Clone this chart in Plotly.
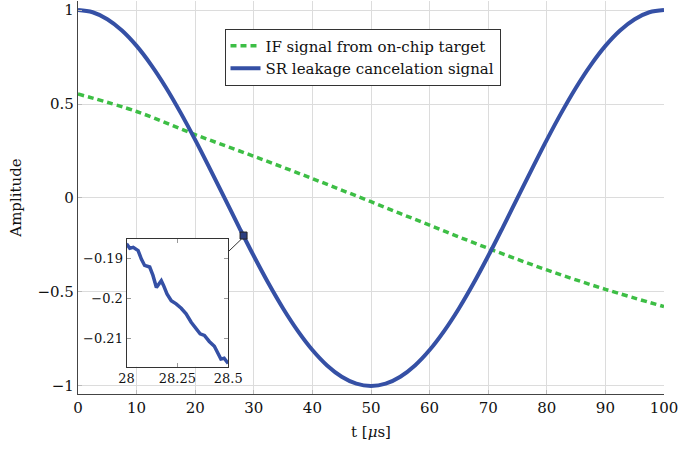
import plotly.graph_objects as go

# ---- data ----
t_sr = [0, 2.5, 5, 7.5, 10, 12.5, 15, 17.5, 20, 22.5, 25, 27.5, 30, 32.5, 35, 37.5, 40,
        42.5, 45, 47.5, 50, 52.5, 55, 57.5, 60, 62.5, 65, 67.5, 70, 72.5, 75, 77.5, 80,
        82.5, 85, 87.5, 90, 92.5, 95, 97.5, 100]
sr = [1.0, 0.988, 0.951, 0.891, 0.809, 0.707, 0.588, 0.454, 0.309, 0.156, 0.0, -0.156,
      -0.309, -0.454, -0.588, -0.707, -0.809, -0.891, -0.951, -0.988, -1.0, -0.988, -0.951,
      -0.891, -0.809, -0.707, -0.588, -0.454, -0.309, -0.156, 0.0, 0.156, 0.309, 0.454,
      0.588, 0.707, 0.809, 0.891, 0.951, 0.988, 1.0]

t_if = [0, 10, 20, 30, 40, 50, 60, 70, 80, 90, 100]
if_sig = [0.553, 0.46, 0.337, 0.222, 0.103, -0.02, -0.145, -0.268, -0.383, -0.486, -0.578]

t_zoom = [28.0, 28.016, 28.033, 28.057, 28.073, 28.089, 28.114, 28.130, 28.147, 28.163,
          28.171, 28.182, 28.199, 28.220, 28.244, 28.269, 28.293, 28.318, 28.342, 28.362,
          28.383, 28.407, 28.432, 28.448, 28.464, 28.480, 28.497, 28.5]
sr_zoom = [-0.1864, -0.1875, -0.1873, -0.1881, -0.1902, -0.1918, -0.1922, -0.1943, -0.1973,
           -0.1960, -0.1956, -0.1968, -0.1989, -0.2006, -0.2014, -0.2025, -0.2039, -0.2060,
           -0.2077, -0.2089, -0.2093, -0.2108, -0.2120, -0.2135, -0.2152, -0.2150, -0.2160,
           -0.2163]

spy_point_x = [28.25]
spy_point_y = [-0.2]

x_ticks = [0, 10, 20, 30, 40, 50, 60, 70, 80, 90, 100]
y_ticks = [-1, -0.5, 0, 0.5, 1]
y_tick_text = ["\u22121", "\u22120.5", "0", "0.5", "1"]
zx_ticks = [28, 28.25, 28.5]
zy_ticks = [-0.21, -0.2, -0.19]
zy_tick_text = ["\u22120.21", "\u22120.2", "\u22120.19"]

BLUE = "#3550a5"
GREEN = "#3dbe45"
FONT = "DejaVu Serif"

fig = go.Figure()
fig.add_trace(go.Scatter(x=t_if, y=if_sig, mode="lines", name="IF signal from on-chip target",
                         line=dict(color=GREEN, width=3.5, dash="6px,4px", shape="spline")))
fig.add_trace(go.Scatter(x=t_sr, y=sr, mode="lines", name="SR leakage cancelation signal",
                         line=dict(color=BLUE, width=4, shape="spline")))
fig.add_trace(go.Scatter(x=spy_point_x, y=spy_point_y, mode="markers", showlegend=False,
                         marker=dict(symbol="square", size=7, color="#2c3f80",
                                     line=dict(color="#222222", width=1))))
fig.add_trace(go.Scatter(x=t_zoom, y=sr_zoom, mode="lines", showlegend=False,
                         xaxis="x2", yaxis="y2",
                         line=dict(color=BLUE, width=3.5)))

W, H = 679, 449
ml, mr, mt, mb = 78, 13, 1, 55
xr = [0, 100]
yr = [-1.043, 1.048]
inset_dx = [0.0828, 0.2563]
inset_dy = [0.0695, 0.3944]

fig.update_layout(
    width=W, height=H,
    margin=dict(l=ml, r=mr, t=mt, b=mb),
    paper_bgcolor="white", plot_bgcolor="white",
    font=dict(family=FONT, size=15, color="#111111"),
    showlegend=True,
    legend=dict(x=0.25, y=0.93, xanchor="left", yanchor="top",
                bgcolor="white", bordercolor="#333333", borderwidth=1,
                font=dict(family=FONT, size=15, color="#111111"),
                tracegroupgap=0, itemwidth=30),
    xaxis=dict(range=xr, tickvals=x_ticks, showgrid=True, gridcolor="#dcdcdc", gridwidth=1,
               zeroline=False, showline=True, linecolor="#444444", linewidth=1.2,
               ticks="inside", ticklen=4, tickcolor="#bbbbbb",
               tickfont=dict(family=FONT, size=15),
               title=dict(text="t [<i>\u03bc</i>s]", font=dict(family=FONT, size=15), standoff=10)),
    yaxis=dict(range=yr, tickvals=y_ticks, ticktext=y_tick_text, showgrid=True,
               gridcolor="#dcdcdc", gridwidth=1, zeroline=False, showline=True,
               linecolor="#444444", linewidth=1.2, ticks="inside", ticklen=4, tickcolor="#bbbbbb",
               tickfont=dict(family=FONT, size=15),
               title=dict(text="Amplitude", font=dict(family=FONT, size=15), standoff=12)),
    xaxis2=dict(domain=inset_dx, anchor="y2", range=[28, 28.5], tickvals=zx_ticks,
                ticktext=["28", "28.25", "28.5"],
                showgrid=False, zeroline=False, showline=True, mirror="allticks",
                linecolor="#333333", linewidth=1, ticks="inside", ticklen=4, tickcolor="#999999",
                tickfont=dict(family=FONT, size=13)),
    yaxis2=dict(domain=inset_dy, anchor="x2", range=[-0.2171, -0.1852], tickvals=zy_ticks,
                ticktext=zy_tick_text, showgrid=False, zeroline=False, showline=True,
                mirror="allticks", linecolor="#333333", linewidth=1, ticks="inside", ticklen=4,
                tickcolor="#999999", tickfont=dict(family=FONT, size=13)),
)

fig.add_shape(type="rect", xref="paper", yref="paper",
              x0=inset_dx[0], x1=inset_dx[1], y0=inset_dy[0], y1=inset_dy[1],
              fillcolor="white", line=dict(width=0), layer="between")

cx = xr[0] + inset_dx[1] * (xr[1] - xr[0])
cy = yr[0] + (inset_dy[0] + 0.9 * (inset_dy[1] - inset_dy[0])) * (yr[1] - yr[0])
fig.add_shape(type="line", xref="x", yref="y", x0=cx, y0=cy,
              x1=spy_point_x[0] - 0.4, y1=spy_point_y[0] - 0.02,
              line=dict(color="#333333", width=1))

fig.write_html("out.html")
